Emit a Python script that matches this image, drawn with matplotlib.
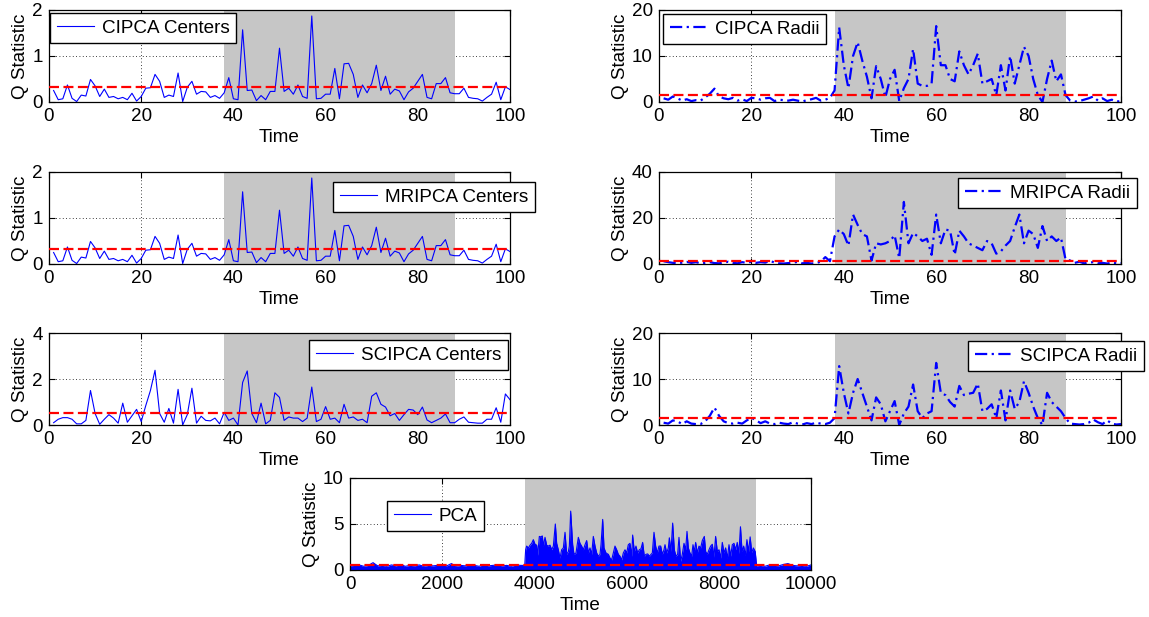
import matplotlib
matplotlib.use("Agg")
import matplotlib.pyplot as plt
import numpy as np

# Time index for the interval-valued charts
time_steps = list(range(1, 101))

cipca_centers = [
    0.25, 0.05, 0.07, 0.37, 0.08, 0.01, 0.15, 0.13, 0.49, 0.35,
    0.12, 0.28, 0.10, 0.12, 0.07, 0.10, 0.05, 0.19, 0.02, 0.12,
    0.30, 0.31, 0.60, 0.45, 0.10, 0.15, 0.12, 0.63, 0.01, 0.32,
    0.45, 0.17, 0.23, 0.22, 0.10, 0.14, 0.08, 0.20, 0.53, 0.07,
    0.05, 1.57, 0.25, 0.26, 0.03, 0.14, 0.05, 0.23, 0.23, 1.17,
    0.23, 0.30, 0.17, 0.37, 0.12, 0.08, 1.87, 0.07, 0.08, 0.17,
    0.17, 0.73, 0.07, 0.83, 0.84, 0.60, 0.10, 0.37, 0.20, 0.40,
    0.80, 0.25, 0.56, 0.17, 0.28, 0.24, 0.05, 0.22, 0.30, 0.45,
    0.60, 0.10, 0.07, 0.40, 0.40, 0.53, 0.20, 0.18, 0.18, 0.30,
    0.10, 0.08, 0.07, 0.02, 0.10, 0.17, 0.43, 0.05, 0.33, 0.27,
]

mripca_centers = [
    0.25, 0.05, 0.07, 0.37, 0.08, 0.01, 0.15, 0.13, 0.49, 0.35,
    0.12, 0.28, 0.10, 0.12, 0.07, 0.10, 0.05, 0.19, 0.02, 0.12,
    0.30, 0.31, 0.60, 0.45, 0.10, 0.15, 0.12, 0.63, 0.01, 0.32,
    0.45, 0.17, 0.23, 0.22, 0.10, 0.14, 0.08, 0.20, 0.53, 0.07,
    0.05, 1.57, 0.25, 0.26, 0.03, 0.14, 0.05, 0.23, 0.23, 1.17,
    0.23, 0.30, 0.17, 0.37, 0.12, 0.08, 1.87, 0.07, 0.08, 0.17,
    0.17, 0.73, 0.07, 0.83, 0.84, 0.60, 0.10, 0.37, 0.20, 0.40,
    0.80, 0.25, 0.56, 0.17, 0.28, 0.24, 0.05, 0.22, 0.30, 0.45,
    0.60, 0.10, 0.07, 0.40, 0.40, 0.53, 0.20, 0.18, 0.18, 0.30,
    0.10, 0.08, 0.07, 0.02, 0.10, 0.17, 0.43, 0.05, 0.33, 0.27,
]

scipca_centers = [
    0.10, 0.25, 0.32, 0.32, 0.25, 0.05, 0.05, 0.20, 1.50, 0.50,
    0.03, 0.25, 0.45, 0.30, 0.08, 0.95, 0.12, 0.40, 0.68, 0.15,
    0.85, 1.50, 2.38, 0.50, 0.12, 0.72, 0.08, 1.55, 0.00, 0.45,
    1.60, 0.08, 0.38, 0.20, 0.18, 0.30, 0.05, 0.55, 0.20, 0.30,
    0.00, 1.85, 2.35, 0.50, 0.10, 0.95, 0.05, 0.20, 1.40, 1.20,
    0.20, 0.35, 0.30, 0.30, 0.15, 0.30, 1.65, 0.15, 0.25, 0.80,
    0.25, 0.30, 0.10, 0.90, 0.30, 0.35, 0.20, 0.25, 0.10, 1.25,
    1.40, 0.90, 0.78, 0.40, 0.50, 0.20, 0.45, 0.68, 0.65, 0.45,
    0.78, 0.22, 0.10, 0.20, 0.30, 0.48, 0.10, 0.10, 0.25, 0.35,
    0.12, 0.10, 0.08, 0.08, 0.25, 0.25, 0.75, 0.12, 1.35, 1.10,
]

cipca_radii = [
    0.8, 0.5, 1.2, 0.8, 0.3, 0.6, 0.2, 0.4, 0.3, 1.0,
    1.8, 2.9, 1.2, 0.8, 0.6, 0.9, 0.3, 0.6, 0.2, 0.9,
    0.8, 0.5, 0.8, 0.9, 0.2, 0.5, 0.4, 0.3, 0.5, 0.3,
    0.1, 0.4, 0.6, 0.9, 0.3, 0.5, 0.9, 2.5, 16.2, 8.0,
    3.0, 10.0, 13.0, 9.0, 5.5, 0.8, 7.8, 5.0, 1.0, 5.0,
    7.0, 0.2, 3.0, 5.0, 11.5, 4.0, 3.5, 3.5, 4.0, 16.5,
    8.0, 8.0, 5.0, 4.5, 11.0, 8.0, 6.0, 8.0, 10.5, 4.0,
    4.5, 5.0, 1.5, 8.0, 2.5, 10.0, 4.0, 8.0, 12.0, 10.0,
    5.0, 1.5, 0.0, 5.0, 9.0, 4.5, 6.0, 1.5, 0.3, 0.1,
    0.2, 0.5, 0.8, 1.2, 0.3, 0.8, 0.2, 0.5, 0.1, 0.2,
]

mripca_radii = [
    1.2, 0.8, 0.5, 0.3, 0.6, 0.9, 0.5, 0.8, 0.3, 0.5,
    0.8, 0.4, 0.3, 0.6, 1.0, 0.5, 0.3, 0.8, 0.5, 1.0,
    0.5, 0.8, 0.6, 1.3, 0.7, 0.3, 0.2, 0.4, 0.6, 0.9,
    0.3, 0.5, 0.2, 0.4, 1.0, 3.0, 1.2, 12.0, 15.0, 13.0,
    8.0, 21.5, 17.0, 13.0, 12.0, 1.5, 9.0, 8.5, 9.0, 10.0,
    12.5, 2.5, 27.0, 9.0, 13.5, 12.0, 10.0, 11.0, 4.0, 21.5,
    9.0, 15.0, 14.5, 4.0, 14.5, 12.0, 9.0, 8.0, 7.0, 6.0,
    10.0, 9.0, 4.5, 5.5, 8.0, 10.0, 16.0, 21.5, 9.0, 14.5,
    13.0, 7.0, 16.5, 10.0, 12.0, 10.0, 11.5, 2.0, 1.5, 0.5,
    1.0, 0.3, 0.6, 0.8, 0.3, 0.5, 0.2, 0.6, 0.3, 0.4,
]

scipca_radii = [
    0.5, 0.3, 1.0, 0.8, 0.2, 0.8, 0.3, 0.2, 0.2, 0.8,
    2.0, 3.8, 2.0, 0.8, 0.4, 0.3, 0.5, 0.3, 1.0, 1.6,
    1.0, 0.4, 0.8, 0.3, 0.2, 0.5, 0.3, 0.2, 0.6, 0.3,
    0.1, 0.4, 0.2, 0.5, 0.3, 0.2, 0.5, 1.5, 12.8, 7.0,
    2.5, 7.0, 10.0, 7.0, 4.0, 1.0, 6.0, 4.5, 0.8, 3.0,
    5.2, 0.0, 2.5, 4.0, 8.8, 3.0, 1.5, 2.5, 3.0, 13.5,
    7.0, 6.5, 5.0, 4.0, 8.5, 6.5, 6.8, 7.0, 9.0, 3.0,
    3.5, 4.5, 1.5, 7.5, 1.0, 7.5, 3.5, 5.0, 9.5, 7.0,
    4.0, 1.5, 0.0, 7.0, 5.0, 4.0, 3.0, 1.5, 0.3, 0.2,
    0.1, 0.2, 0.5, 1.2, 0.6, 0.2, 1.0, 0.3, 0.1, 0.2,
]

# Control limits (red dashed lines)
limit_cipca_centers = 0.32
limit_mripca_centers = 0.32
limit_scipca_centers = 0.53
limit_radii = 1.5
limit_pca = 0.55

# Faulty period (shaded)
fault_start, fault_end = 38, 88
pca_fault_start, pca_fault_end = 3800, 8800

# Classical PCA Q statistic, sampled from the 10000-observation record
pca_time = [
    0, 100, 200, 300, 400, 500, 600, 700, 800, 900, 1000, 1100, 1200, 1300,
    1400, 1500, 1600, 1700, 1800, 1900, 2000, 2100, 2200, 2300, 2400, 2500,
    2600, 2700, 2800, 2900, 3000, 3100, 3200, 3300, 3400, 3500, 3600, 3700,
    3790, 3810, 3832, 3870, 3905, 3941, 3977, 4013, 4049, 4071, 4107, 4136,
    4172, 4194, 4230, 4266, 4300, 4339, 4375, 4411, 4454, 4483, 4519, 4555,
    4591, 4628, 4664, 4700, 4736, 4758, 4787, 4830, 4859, 4902, 4953, 4989,
    5025, 5062, 5098, 5134, 5170, 5206, 5242, 5278, 5315, 5351, 5387, 5423,
    5445, 5481, 5510, 5553, 5604, 5640, 5676, 5712, 5748, 5785, 5821, 5856,
    5893, 5929, 5965, 6001, 6037, 6073, 6110, 6131, 6167, 6203, 6240, 6276,
    6312, 6348, 6384, 6420, 6457, 6493, 6529, 6558, 6594, 6630, 6666, 6702,
    6739, 6775, 6811, 6833, 6869, 6905, 6927, 6963, 6999, 7035, 7071, 7107,
    7136, 7172, 7208, 7245, 7281, 7310, 7339, 7375, 7411, 7440, 7469, 7498,
    7534, 7570, 7606, 7642, 7686, 7715, 7751, 7787, 7823, 7859, 7895, 7931,
    7968, 8004, 8040, 8076, 8112, 8148, 8185, 8221, 8257, 8293, 8329, 8365,
    8400, 8436, 8470, 8505, 8540, 8575, 8610, 8645, 8680, 8715, 8750, 8790,
    8820, 8900, 9000, 9100, 9200, 9300, 9400, 9500, 9600, 9700, 9800, 9900,
    10000,
]
pca_q = [
    0.45, 0.50, 0.55, 0.40, 0.50, 0.80, 0.45, 0.50, 0.40, 0.55, 0.45, 0.60,
    0.40, 0.50, 0.45, 0.55, 0.40, 0.50, 0.45, 0.50, 0.55, 0.45, 0.70, 0.40,
    0.50, 0.45, 0.55, 0.50, 0.40, 0.60, 0.45, 0.50, 0.55, 0.45, 0.50, 0.40,
    0.55, 0.50,
    0.50, 2.20, 2.60, 2.40, 2.70, 2.90, 3.30, 2.80, 2.70, 1.60, 3.65, 3.60,
    3.70, 2.60, 3.55, 2.70, 2.60, 2.70, 2.20, 2.60, 5.00, 2.90, 2.20, 1.30,
    2.20, 2.40, 4.10, 1.70, 2.00, 2.60, 6.40, 2.75, 1.70, 1.85, 3.55, 2.90,
    2.60, 2.20, 2.75, 3.20, 1.85, 2.40, 1.70, 3.65, 2.60, 1.85, 1.50, 1.70,
    2.75, 5.50, 2.40, 1.85, 1.70, 1.30, 1.10, 1.85, 2.60, 2.20, 1.70, 1.50,
    1.10, 1.85, 2.20, 1.85, 2.75, 2.90, 1.50, 3.80, 2.00, 2.60, 1.85, 2.20,
    2.30, 3.00, 1.50, 1.70, 1.75, 1.50, 1.70, 1.85, 4.10, 2.60, 1.85, 2.60,
    2.60, 1.70, 2.20, 2.75, 1.85, 2.40, 3.50, 2.00, 5.10, 2.20, 1.50, 1.70,
    3.55, 0.95, 1.70, 2.90, 2.20, 4.20, 2.40, 1.85, 1.50, 2.75, 2.00, 3.00,
    1.85, 2.60, 2.40, 3.20, 3.65, 2.00, 1.70, 2.20, 2.60, 2.80, 1.40, 3.65,
    2.00, 2.20, 1.30, 3.00, 1.85, 2.40, 1.30, 2.75, 1.50, 2.75, 2.90, 2.20,
    3.00, 1.80, 4.70, 2.00, 2.60, 1.60, 3.30, 2.00, 3.60, 1.90, 2.40, 2.00,
    0.45, 0.50, 0.40, 0.55, 0.50, 0.45, 0.60, 0.70, 0.50, 0.45, 0.50, 0.40,
    0.55,
]

W, H = 1149, 617
GRAY = '#c6c6c6'

plt.rcParams['font.family'] = ['Liberation Sans', 'DejaVu Sans']
plt.rcParams['font.size'] = 13.6


def px_box(left, top, right, bottom):
    """Axes rectangle from pixel edges."""
    return [left / W, 1 - bottom / H, (right - left) / W, (bottom - top) / H]


def style_axes(ax, xlim, ylim, yticks, xticks):
    ax.set_xlim(*xlim)
    ax.set_ylim(*ylim)
    ax.set_xticks(xticks)
    ax.set_yticks(yticks)
    ax.set_axisbelow(True)
    ax.grid(True, linestyle=(0, (1, 3)), color='black', linewidth=0.6)
    ax.tick_params(direction='in', top=True, right=True, length=4, width=0.8, pad=4.5)
    for s in ax.spines.values():
        s.set_linewidth(0.9)
    ax.set_xlabel('Time', labelpad=3)
    ax.set_ylabel('Q Statistic', labelpad=2)


def add_legend(ax, x, y):
    leg = ax.legend(loc='upper left', bbox_to_anchor=(x / W, 1 - y / H),
                    bbox_transform=ax.figure.transFigure, borderaxespad=0,
                    fancybox=False, framealpha=1, edgecolor='black',
                    handlelength=2.0, handletextpad=0.4, borderpad=0.35)
    leg.get_frame().set_linewidth(1.0)
    leg.set_zorder(10)


def plot_panel(fig, rect, values, limit, label, ylim, yticks, dashdot, leg_xy):
    ax = fig.add_axes(rect)
    ax.axvspan(fault_start, fault_end, color=GRAY, zorder=1, linewidth=0)
    if dashdot:
        ax.plot(time_steps, values, color='blue', linewidth=1.6,
                dashes=(5.5, 2, 1, 2), label=label, zorder=2)
    else:
        ax.plot(time_steps, values, color='blue', linewidth=0.8,
                label=label, zorder=2)
    ax.axhline(limit, color='red', linewidth=1.6, dashes=(4.5, 2), zorder=3)
    style_axes(ax, (0, 100), ylim, yticks, range(0, 101, 20))
    add_legend(ax, *leg_xy)
    return ax


fig = plt.figure(figsize=(W / 100, H / 100), dpi=100)

left_x = (49, 510)
right_x = (659, 1121)
rows = [(10, 102), (172, 264), (333, 425)]

plot_panel(fig, px_box(left_x[0], rows[0][0], left_x[1], rows[0][1]),
           cipca_centers, limit_cipca_centers, 'CIPCA Centers',
           (0, 2), [0, 1, 2], False, (50, 13))
plot_panel(fig, px_box(right_x[0], rows[0][0], right_x[1], rows[0][1]),
           cipca_radii, limit_radii, 'CIPCA Radii',
           (0, 20), [0, 10, 20], True, (663, 14))
plot_panel(fig, px_box(left_x[0], rows[1][0], left_x[1], rows[1][1]),
           mripca_centers, limit_mripca_centers, 'MRIPCA Centers',
           (0, 2), [0, 1, 2], False, (333, 182))
plot_panel(fig, px_box(right_x[0], rows[1][0], right_x[1], rows[1][1]),
           mripca_radii, limit_radii, 'MRIPCA Radii',
           (0, 40), [0, 20, 40], True, (958, 178))
plot_panel(fig, px_box(left_x[0], rows[2][0], left_x[1], rows[2][1]),
           scipca_centers, limit_scipca_centers, 'SCIPCA Centers',
           (0, 4), [0, 2, 4], False, (309, 340))
plot_panel(fig, px_box(right_x[0], rows[2][0], right_x[1], rows[2][1]),
           scipca_radii, limit_radii, 'SCIPCA Radii',
           (0, 20), [0, 10, 20], True, (968, 341))

# Classical PCA on the full single-valued record
ax = fig.add_axes(px_box(350, 478, 811, 570))
ax.axvspan(pca_fault_start, pca_fault_end, color=GRAY, zorder=1, linewidth=0)
ax.fill_between(pca_time, 0, pca_q, color='blue', linewidth=0, zorder=2)
ax.plot(pca_time, pca_q, color='blue', linewidth=0.8, label='PCA', zorder=2)
ax.axhline(limit_pca, color='red', linewidth=1.6, dashes=(4.5, 2), zorder=3)
style_axes(ax, (0, 10000), (0, 10), [0, 5, 10], range(0, 10001, 2000))
add_legend(ax, 387, 501)

fig.savefig('out.png', dpi=100)
